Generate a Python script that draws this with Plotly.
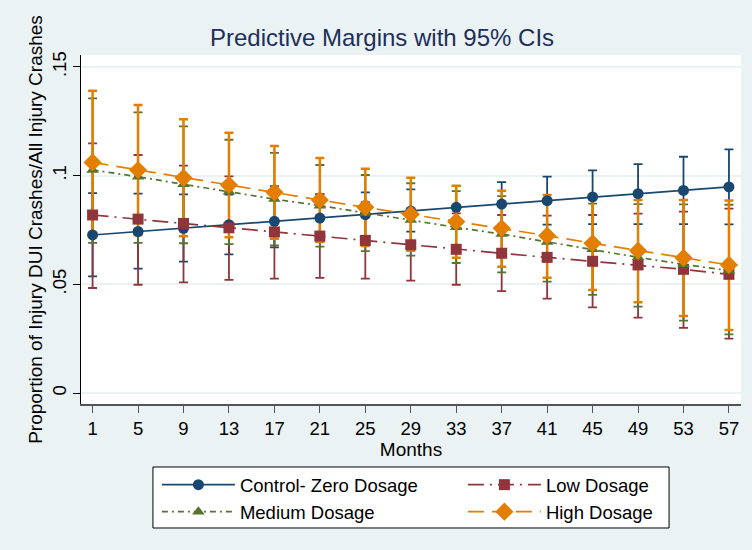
import plotly.graph_objects as go

# Months at which the predictive margins are evaluated
months = [1, 5, 9, 13, 17, 21, 25, 29, 33, 37, 41, 45, 49, 53, 57]

# Predicted proportion and 95% CI bounds per dosage group
control = [0.0727, 0.0743, 0.0758, 0.0774, 0.0790, 0.0805, 0.0821, 0.0837, 0.0854, 0.0869,
           0.0885, 0.0902, 0.0917, 0.0932, 0.0948]
control_lo = [0.0537, 0.0572, 0.0604, 0.0638, 0.0670, 0.0698, 0.0722, 0.0742, 0.0757, 0.0768,
              0.0775, 0.0777, 0.0777, 0.0777, 0.0776]
control_hi = [0.0920, 0.0917, 0.0914, 0.0913, 0.0913, 0.0915, 0.0923, 0.0937, 0.0952, 0.0970,
              0.0995, 0.1024, 0.1053, 0.1087, 0.1121]

low = [0.0819, 0.0800, 0.0780, 0.0760, 0.0741, 0.0722, 0.0702, 0.0682, 0.0661, 0.0643,
       0.0624, 0.0606, 0.0589, 0.0569, 0.0546]
low_lo = [0.0483, 0.0498, 0.0509, 0.0520, 0.0526, 0.0530, 0.0526, 0.0517, 0.0498, 0.0469,
          0.0434, 0.0394, 0.0347, 0.0300, 0.0250]
low_hi = [0.1148, 0.1095, 0.1046, 0.0997, 0.0952, 0.0914, 0.0878, 0.0847, 0.0826, 0.0819,
          0.0816, 0.0819, 0.0825, 0.0834, 0.0848]

medium = [0.1026, 0.0995, 0.0960, 0.0926, 0.0892, 0.0862, 0.0828, 0.0796, 0.0762, 0.0731,
          0.0695, 0.0661, 0.0624, 0.0592, 0.0563]
medium_lo = [0.0691, 0.0691, 0.0689, 0.0685, 0.0679, 0.0673, 0.0653, 0.0632, 0.0598, 0.0555,
             0.0512, 0.0451, 0.0397, 0.0333, 0.0270]
medium_hi = [0.1355, 0.1291, 0.1227, 0.1165, 0.1105, 0.1049, 0.1003, 0.0965, 0.0929, 0.0906,
             0.0878, 0.0871, 0.0869, 0.0868, 0.0866]

high = [0.1061, 0.1026, 0.0990, 0.0957, 0.0923, 0.0888, 0.0854, 0.0822, 0.0788, 0.0758,
        0.0724, 0.0689, 0.0655, 0.0622, 0.0589]
high_lo = [0.0732, 0.0727, 0.0721, 0.0717, 0.0710, 0.0695, 0.0676, 0.0655, 0.0622, 0.0581,
           0.0530, 0.0474, 0.0417, 0.0354, 0.0290]
high_hi = [0.1390, 0.1325, 0.1259, 0.1197, 0.1136, 0.1081, 0.1032, 0.0990, 0.0954, 0.0931,
           0.0911, 0.0892, 0.0888, 0.0888, 0.0886]

y_ticks = [0, 0.05, 0.1, 0.15]
y_tick_labels = ["0", ".05", ".1", ".15"]

FONT = "Liberation Sans, Arial, Helvetica, sans-serif"
BG = "#eaf2f3"

groups = [
    ("Control- Zero Dosage", control, control_lo, control_hi, "#1a476f", "circle", 11, "solid", 1.7),
    ("Low Dosage", low, low_lo, low_hi, "#90353b", "square", 11, "16px,6px,2px,6px", 1.7),
    ("Medium Dosage", medium, medium_lo, medium_hi, "#55752f", "triangle-up", 11, "6px,4px,2px,4px", 1.7),
    ("High Dosage", high, high_lo, high_hi, "#e37e00", "diamond", 14, "16px,8px", 1.7),
]

fig = go.Figure()

# Confidence-interval caps go underneath every connected line and marker
for name, est, lo, hi, color, sym, size, dash, lw in groups:
    fig.add_trace(go.Scatter(
        x=months, y=est, mode="markers",
        marker=dict(size=1, color="rgba(0,0,0,0)"),
        error_y=dict(type="data", symmetric=False,
                     array=[h - e for h, e in zip(hi, est)],
                     arrayminus=[e - l for e, l in zip(est, lo)],
                     color=color, thickness=2.5 if sym == "diamond" else 1.8, width=4.5),
        showlegend=False, hoverinfo="skip",
    ))

for name, est, lo, hi, color, sym, size, dash, lw in groups:
    fig.add_trace(go.Scatter(
        x=months, y=est, mode="lines+markers", name=name,
        line=dict(color=color, width=lw, dash=dash),
        marker=dict(symbol=sym, size=size, color=color, line=dict(width=0)),
    ))

# Frame behind the two-column key
fig.add_shape(type="rect", xref="paper", yref="paper",
              x0=0.109, x1=0.891, y0=-0.3553, y1=-0.1805,
              fillcolor="white", line=dict(color="black", width=1), layer="above")

fig.update_layout(
    width=752, height=550,
    paper_bgcolor=BG, plot_bgcolor="white",
    margin=dict(l=81, r=11, t=55, b=146, autoexpand=False),
    font=dict(family=FONT, size=18.5, color="black"),
    title=dict(text="Predictive Margins with 95% CIs", x=0.508, xanchor="center",
               y=1 - 38 / 550, yanchor="middle",
               font=dict(family=FONT, size=24, color="#1e2f5a")),
    xaxis=dict(
        range=[-0.02, 58.06], tickmode="array", tickvals=months,
        ticks="outside", ticklen=7, tickwidth=1, tickcolor="#555",
        showline=True, linecolor="#555", linewidth=1.5, mirror=False,
        showgrid=False, zeroline=False,
        tickfont=dict(size=18.5), title=dict(text="Months", font=dict(size=19), standoff=0),
    ),
    yaxis=dict(
        range=[-0.00506, 0.1555], tickmode="array", tickvals=y_ticks, ticktext=y_tick_labels,
        tickangle=-90, ticks="outside", ticklen=7, tickwidth=1, tickcolor="black",
        showline=True, linecolor="black", linewidth=1.2,
        showgrid=True, gridcolor=BG, gridwidth=1.5, zeroline=False,
        tickfont=dict(size=18.5),
        title=dict(text="Proportion of Injury DUI Crashes/All Injury Crashes",
                   font=dict(size=19), standoff=0),
    ),
    legend=dict(
        orientation="h", x=0.115, xanchor="left", y=-0.178, yanchor="top",
        bgcolor="rgba(0,0,0,0)", borderwidth=0,
        entrywidth=218, entrywidthmode="pixels", itemwidth=73,
        font=dict(size=18.5), traceorder="normal", tracegroupgap=0,
    ),
)

fig.write_html("out.html")
